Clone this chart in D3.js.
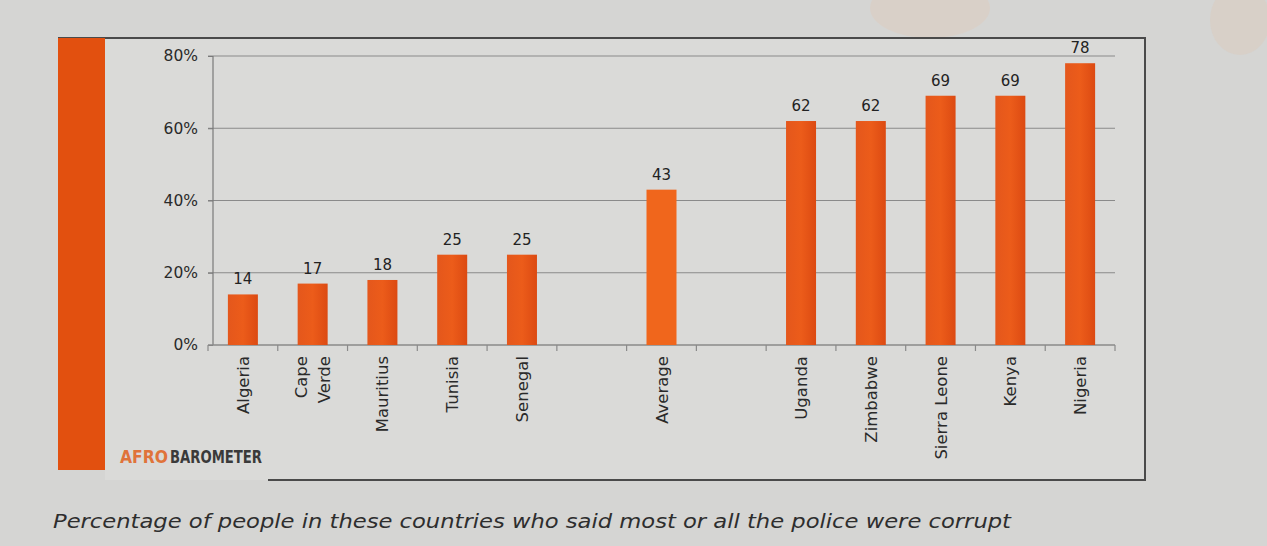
<!DOCTYPE html>
<html><head><meta charset="utf-8">
<script src="https://cdn.jsdelivr.net/npm/d3@7"></script>
<style>body{margin:0;background:#d4d4d2;}svg{display:block;}</style>
</head><body>
<svg id="c" width="1267" height="546"></svg>
<script>
const categories = ["Algeria","Cape Verde","Mauritius","Tunisia","Senegal","gap1","Average","gap2","Uganda","Zimbabwe","Sierra Leone","Kenya","Nigeria"];
const values = [14,17,18,25,25,null,43,null,62,62,69,69,78];
const yTicks = [0,20,40,60,80];
const caption = "Percentage of people in these countries who said most or all the police were corrupt";

const FONT = "'DejaVu Sans', Verdana, sans-serif";
const svg = d3.select("#c");
const W=1267,H=546;
svg.append("rect").attr("width",W).attr("height",H).attr("fill","#d5d5d3");
// faint blobs top right
svg.append("ellipse").attr("cx",930).attr("cy",8).attr("rx",60).attr("ry",30).attr("fill","#dccdc2").attr("opacity",0.6);
svg.append("ellipse").attr("cx",1240).attr("cy",20).attr("rx",30).attr("ry",35).attr("fill","#dccbbd").attr("opacity",0.5);
// slide panel
svg.append("rect").attr("x",105).attr("y",38).attr("width",1040).attr("height",442).attr("fill","#dadad8");
// frame lines
const fc="#4a4a4a";
svg.append("line").attr("x1",58).attr("x2",1146).attr("y1",38).attr("y2",38).attr("stroke",fc).attr("stroke-width",2);
svg.append("line").attr("x1",1145).attr("x2",1145).attr("y1",38).attr("y2",481).attr("stroke",fc).attr("stroke-width",2);
svg.append("line").attr("x1",268).attr("x2",1146).attr("y1",480).attr("y2",480).attr("stroke",fc).attr("stroke-width",2);
svg.append("rect").attr("x",58).attr("y",38).attr("width",47).attr("height",432).attr("fill","#e2500f");

const x = d3.scaleBand().domain(categories).range([208,1115]).paddingInner(0.57).paddingOuter(0.285);
const y = d3.scaleLinear().domain([0,80]).range([345,56]);

// gridlines
svg.append("g").selectAll("line").data(yTicks.filter(d=>d>0)).join("line")
  .attr("x1",208).attr("x2",1115).attr("y1",d=>y(d)).attr("y2",d=>y(d))
  .attr("stroke","#8a8a8a").attr("stroke-width",1.2);

// y axis
const ya = svg.append("g").attr("transform","translate(213,0)")
  .call(d3.axisLeft(y).tickValues(yTicks).tickFormat(d=>d+"%").tickSize(5).tickPadding(10));
ya.select(".domain").attr("stroke","#7a7a7a").attr("stroke-width",1.2).attr("d","M0,56V345");
ya.selectAll(".tick line").attr("stroke","#7a7a7a");
ya.selectAll("text").attr("font-family",FONT).attr("font-size",15.5).attr("fill","#2a2a2a");

// x axis baseline and ticks at slot boundaries
svg.append("line").attr("x1",208).attr("x2",1115).attr("y1",345).attr("y2",345).attr("stroke","#8a8a8a").attr("stroke-width",1.5);
const step = x.step();
const bounds = d3.range(categories.length+1).map(i=>208+i*step);
svg.append("g").selectAll("line").data(bounds).join("line")
  .attr("x1",d=>d).attr("x2",d=>d).attr("y1",345).attr("y2",351).attr("stroke","#8a8a8a").attr("stroke-width",1.2);

// bars
const data = categories.map((c,i)=>({c,v:values[i]})).filter(d=>d.v!=null);
const grad = svg.append("defs").append("linearGradient").attr("id","bg").attr("x1",0).attr("x2",1);
grad.append("stop").attr("offset","0").attr("stop-color","#e4571c");
grad.append("stop").attr("offset","0.5").attr("stop-color","#ec5c1a");
grad.append("stop").attr("offset","1").attr("stop-color","#dc4a12");
svg.append("g").selectAll("rect").data(data).join("rect")
  .attr("x",d=>x(d.c)).attr("width",x.bandwidth())
  .attr("y",d=>y(d.v)).attr("height",d=>y(0)-y(d.v))
  .attr("fill",d=>d.c==="Average"?"#f0661c":"url(#bg)");

// value labels
svg.append("g").selectAll("text").data(data).join("text")
  .attr("x",d=>x(d.c)+x.bandwidth()/2).attr("y",d=>y(d.v)-10)
  .attr("text-anchor","middle").attr("font-family",FONT)
  .attr("font-size",15).attr("fill","#222").text(d=>d.v);

// category labels rotated
const lab = svg.append("g").selectAll("g").data(data).join("g")
  .attr("transform",d=>`translate(${x(d.c)+x.bandwidth()/2},356) rotate(-90)`);
lab.each(function(d){
  const g=d3.select(this);
  const lines = d.c==="Cape Verde"?["Cape","Verde"]:[d.c];
  lines.forEach((t,i)=>{
    g.append("text").attr("x",0).attr("y",(i-(lines.length-1)/2)*23+6)
      .attr("text-anchor","end").attr("font-family",FONT)
      .attr("font-size",16.5).attr("fill","#2a2a2a").text(t);
  });
});

// logo (two separate texts)
svg.append("text").attr("x",120).attr("y",463).attr("font-family","'DejaVu Sans Condensed','DejaVu Sans',sans-serif")
  .attr("font-weight","bold").attr("font-size",18).attr("textLength",48).attr("lengthAdjust","spacingAndGlyphs")
  .attr("fill","#e0733a").text("AFRO");
svg.append("text").attr("x",170).attr("y",463).attr("font-family","'DejaVu Sans Condensed','DejaVu Sans',sans-serif")
  .attr("font-weight","bold").attr("font-size",18).attr("textLength",92).attr("lengthAdjust","spacingAndGlyphs")
  .attr("fill","#3a3a3a").text("BAROMETER");

// caption
svg.append("text").attr("x",53).attr("y",528).attr("font-family",FONT)
  .attr("font-style","italic").attr("font-size",19).attr("fill","#2e2e2e")
  .attr("textLength",958).attr("lengthAdjust","spacingAndGlyphs").text(caption);
</script>
</body></html>
